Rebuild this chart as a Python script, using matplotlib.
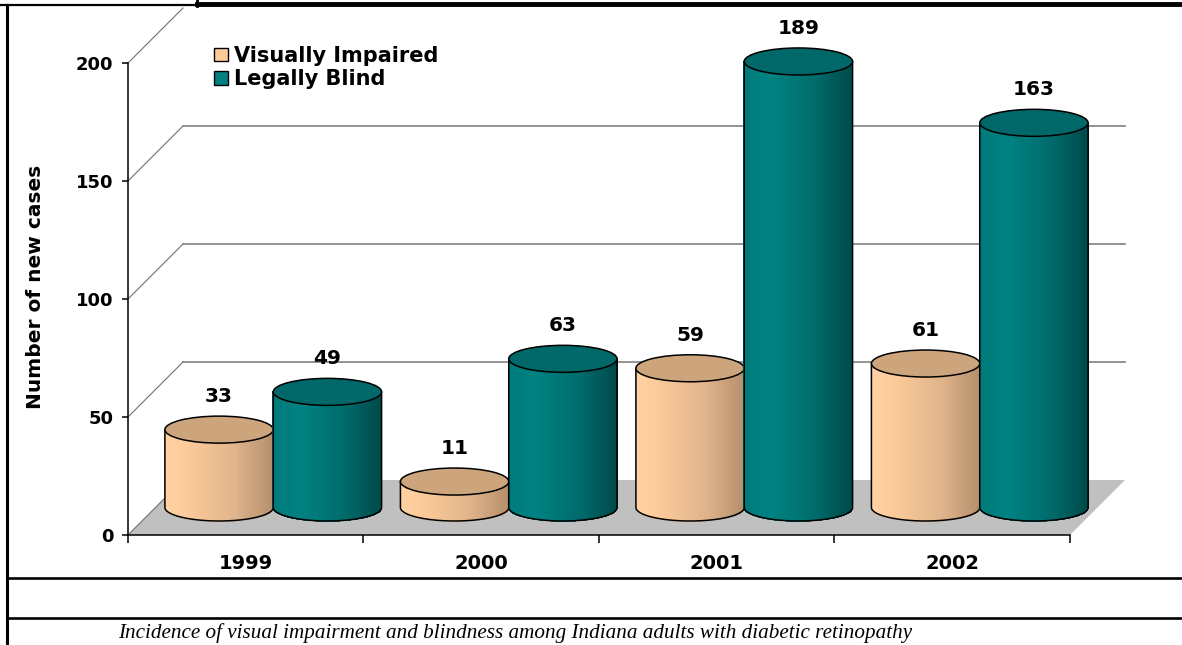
import numpy as np
import matplotlib
matplotlib.use("Agg")
import matplotlib.pyplot as plt
from matplotlib.patches import Ellipse, Polygon, Patch
from matplotlib.collections import PolyCollection
from matplotlib.colors import LinearSegmentedColormap

# 数据
years = ["1999", "2000", "2001", "2002"]
visually_impaired = [33, 11, 59, 61]
legally_blind = [49, 63, 189, 163]
series_names = ["Visually Impaired", "Legally Blind"]
y_ticks = [0, 50, 100, 150, 200]
caption = "Incidence of visual impairment and blindness among Indiana adults with diabetic retinopathy"

plt.rcParams["font.family"] = ["DejaVu Sans"]
plt.rcParams["font.weight"] = "bold"

W, H = 1182, 645
fig = plt.figure(figsize=(W / 100, H / 100), dpi=100)
ax = fig.add_axes([128 / W, 110 / H, 942 / W, 472 / H])
ax.patch.set_visible(False)
ax.set_xlim(0, len(years))
ax.set_ylim(0, 200)

# 3D 深度偏移（像素 -> 数据单位）
depth = 55
p0 = ax.transData.transform((0, 0))
p1 = ax.transData.transform((1, 1))
px_x, px_y = p1[0] - p0[0], p1[1] - p0[1]
dx, dy = depth / px_x, depth / px_y

# 地板
floor = Polygon([(0, 0), (len(years), 0), (len(years) + dx, dy), (dx, dy)],
                closed=True, fc="#c0c0c0", ec="none", zorder=1, clip_on=False)
ax.add_patch(floor)

# 侧墙斜线和背墙网格线
for t in y_ticks:
    ax.plot([0, dx], [t, t + dy], color="#707070", lw=0.8, zorder=1.5, clip_on=False)
for t in y_ticks[1:-1]:
    ax.plot([dx, len(years) + dx], [t + dy, t + dy], color="#808080", lw=1.2,
            zorder=1.5, clip_on=False)

# 圆柱颜色
tan_cmap = LinearSegmentedColormap.from_list(
    "tan", [(0, "#ffd2a4"), (0.2, "#fdcb99"), (0.65, "#e0b48c"), (1, "#b58f6c")])
teal_cmap = LinearSegmentedColormap.from_list(
    "teal", [(0, "#007a7a"), (0.25, "#008282"), (0.65, "#006c6c"), (1, "#004a4a")])
series = [
    (visually_impaired, tan_cmap, "#cda57d", "#ffcc99"),
    (legally_blind, teal_cmap, "#006868", "#008080"),
]

cyl_w = 0.46
a = cyl_w / 2
b = 13.5 / px_y
base = dy / 2
n_strips = 100
edges = np.linspace(-1, 1, n_strips + 1)
arc_t = np.linspace(0, -np.pi, 80)

z = 3
for i, year in enumerate(years):
    for j, (vals, cmap, top_c, _) in enumerate(series):
        v = vals[i]
        xc = i + 0.5 + (j - 0.5) * cyl_w + dx / 2
        top = base + v
        # 柱身：竖条渐变
        strips = []
        for u0, u1 in zip(edges[:-1], edges[1:]):
            y0 = base - b * np.sqrt(max(0.0, 1 - u0 ** 2))
            y1 = base - b * np.sqrt(max(0.0, 1 - u1 ** 2))
            strips.append([(xc + a * u0, top), (xc + a * u1, top),
                           (xc + a * u1, y1), (xc + a * u0, y0)])
        cols = cmap((edges[:-1] + 1) / 2)
        ax.add_collection(PolyCollection(strips, facecolors=cols, edgecolors=cols,
                                         linewidths=0.5, antialiaseds=False,
                                         zorder=z, clip_on=False))
        pts = [(xc + a, top), (xc + a, base)]
        pts += list(zip(xc + a * np.cos(arc_t), base + b * np.sin(arc_t)))
        pts += [(xc - a, top)]
        ax.add_patch(Polygon(pts, closed=True, fill=False, ec="black", lw=1.1,
                             zorder=z + 0.1, clip_on=False))
        ax.add_patch(Ellipse((xc, top), 2 * a, 2 * b, fc=top_c, ec="black", lw=1.1,
                             zorder=z + 0.2, clip_on=False))
        ax.annotate(str(v), (xc, top), xytext=(0, 33), textcoords="offset pixels",
                    ha="center", va="center", fontsize=14.5, fontweight="bold",
                    zorder=20, annotation_clip=False)
        z += 1

ax.set_xlim(0, len(years))
ax.set_ylim(0, 200)

# 坐标轴
for s in ["top", "right"]:
    ax.spines[s].set_visible(False)
for s in ["left", "bottom"]:
    ax.spines[s].set_linewidth(1.1)
    ax.spines[s].set_zorder(2)
ax.set_yticks(y_ticks)
ax.tick_params(axis="y", direction="out", length=4.5, width=1.1, pad=6, labelsize=13)
ax.set_xticks(range(len(years) + 1))
ax.set_xticklabels([""] * (len(years) + 1))
ax.set_xticks(np.arange(len(years)) + 0.5, minor=True)
ax.set_xticklabels(years, minor=True)
ax.tick_params(axis="x", which="major", direction="out", length=6, width=1.1)
ax.tick_params(axis="x", which="minor", length=0, pad=14, labelsize=14)

ax.set_ylabel("Number of new cases", fontsize=14.5, fontweight="bold", va="center")
ax.yaxis.set_label_coords((35 - 128) / 942, 0.525)

# 图例
handles = [Patch(fc=s[3], ec="black", lw=1) for s in series]
ax.legend(handles, series_names, loc="upper left",
          bbox_to_anchor=(214 / W, 1 - 46 / H), bbox_transform=fig.transFigure,
          frameon=False, borderpad=0, borderaxespad=0,
          handlelength=0.68, handleheight=0.62, handletextpad=0.3,
          labelspacing=0.15, prop={"size": 15, "weight": "bold"})

# 外框和标题
fa = fig.add_axes([0, 0, 1, 1], zorder=10)
fa.set_xlim(0, W)
fa.set_ylim(H, 0)
fa.axis("off")
fa.plot([7, 7], [5, H], color="black", lw=2.2)
fa.plot([0, 197], [5.3, 5.3], color="black", lw=1.6)
fa.plot([196.5, 196.5], [0, 5.5], color="black", lw=2)
fa.plot([197, W], [4, 4], color="black", lw=3.5)
fa.plot([7, W], [578, 578], color="black", lw=1.9)
fa.plot([7, W], [618, 618], color="black", lw=1.9)
fa.text(118, 633, caption, family="Liberation Serif", style="italic",
        fontweight="normal", fontsize=15.2, va="center", ha="left")

fig.savefig("out.png", dpi=100)
